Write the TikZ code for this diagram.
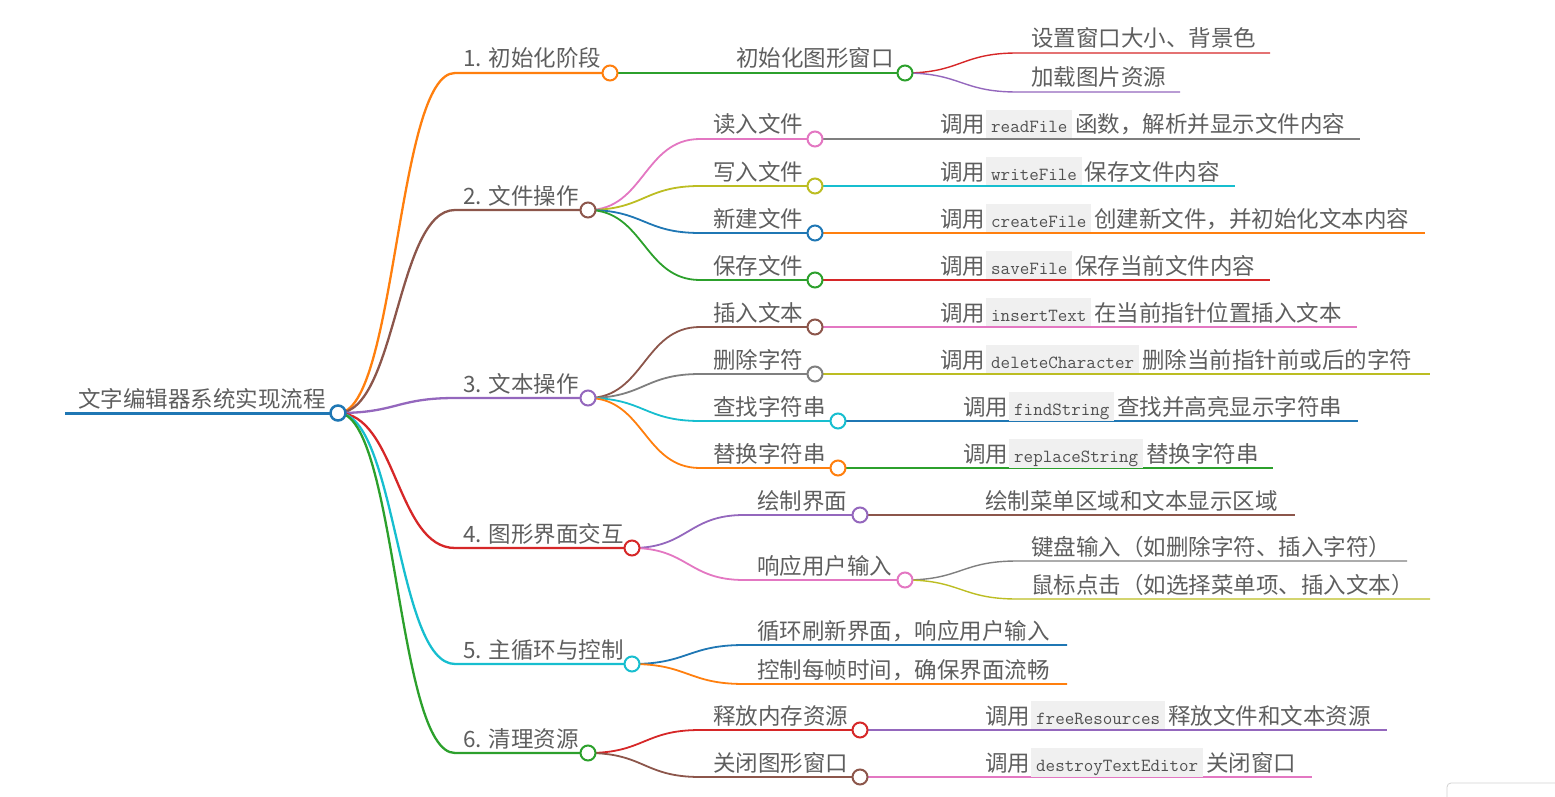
\documentclass[tikz,border=0pt]{standalone}
\usepackage{fontspec}
\setmainfont{Noto Sans CJK SC}
\usetikzlibrary{calc,backgrounds}

\definecolor{cblue}{HTML}{1F77B4}
\definecolor{corange}{HTML}{FF7F0E}
\definecolor{cgreen}{HTML}{2CA02C}
\definecolor{cred}{HTML}{D62728}
\definecolor{cpurple}{HTML}{9467BD}
\definecolor{cbrown}{HTML}{8C564B}
\definecolor{cpink}{HTML}{E377C2}
\definecolor{cgray}{HTML}{7F7F7F}
\definecolor{colive}{HTML}{BCBD22}
\definecolor{ccyan}{HTML}{17BECF}
\definecolor{txtgray}{HTML}{5E5E5E}
\definecolor{codebg}{HTML}{F0F0F0}
\definecolor{codetxt}{HTML}{505050}

\newcommand{\code}[1]{\hspace{1pt}{\setlength{\fboxsep}{2pt}\colorbox{codebg}{\rule[-3pt]{0pt}{24pt}\hspace{3pt}{\ttfamily\fontsize{18.5}{18.5}\selectfont\color{codetxt}#1}\hspace{3pt}}}\hspace{3pt}}

\tikzset{
  dot/.style={circle,draw=#1,fill=white,line width=2pt,minimum size=15pt,inner sep=0pt},
  lbl/.style={anchor=base west,inner sep=0pt,yshift=-3pt,text=txtgray,font=\fontsize{22.5}{22.5}\selectfont},
  lnk/.style={line width=#1},
  crv/.style={to path={.. controls ($(\tikztostart)+(#1,0)$) and ($(\tikztotarget)-(#1,0)$) .. (\tikztotarget)}}
}

\begin{document}
\begin{tikzpicture}[x=1pt,y=-1pt]
  \useasboundingbox (0,0) rectangle (1555,797);

  % root
  \coordinate (root-s) at (65,413);
  \node[dot=cblue,line width=2.5pt] (root) at (338,413) {};
  \node[lbl] (root-t) at (78,404) {文字编辑器系统实现流程};

  % stages
  \coordinate (s1-s) at (455,73);
  \node[dot=corange] (s1) at (610,73) {};
  \node[lbl] (s1-t) at (463,64) {1. 初始化阶段};
  \coordinate (s2-s) at (455,210);
  \node[dot=cbrown] (s2) at (588,210) {};
  \node[lbl] (s2-t) at (463,201) {2. 文件操作};
  \coordinate (s3-s) at (455,398);
  \node[dot=cpurple] (s3) at (588,398) {};
  \node[lbl] (s3-t) at (463,389) {3. 文本操作};
  \coordinate (s4-s) at (455,548);
  \node[dot=cred] (s4) at (632,548) {};
  \node[lbl] (s4-t) at (463,539) {4. 图形界面交互};
  \coordinate (s5-s) at (455,664);
  \node[dot=ccyan] (s5) at (632,664) {};
  \node[lbl] (s5-t) at (463,655) {5. 主循环与控制};
  \coordinate (s6-s) at (455,753);
  \node[dot=cgreen] (s6) at (588,753) {};
  \node[lbl] (s6-t) at (463,744) {6. 清理资源};

  % 1. init
  \coordinate (s1a-s) at (723,73);
  \node[dot=cgreen] (s1a) at (905,73) {};
  \node[lbl] (s1a-t) at (736,64) {初始化图形窗口};
  \coordinate (s1a1-s) at (1017,53); \coordinate (s1a1-e) at (1270,53);
  \node[lbl] (s1a1-t) at (1031,44) {设置窗口大小、背景色};
  \coordinate (s1a2-s) at (1017,92); \coordinate (s1a2-e) at (1180,92);
  \node[lbl] (s1a2-t) at (1031,83) {加载图片资源};

  % 2. files
  \coordinate (s2a-s) at (700,139);
  \node[dot=cpink] (s2a) at (815,139) {};
  \node[lbl] (s2a-t) at (713,130) {读入文件};
  \coordinate (s2a1-s) at (927,139); \coordinate (s2a1-e) at (1360,139);
  \node[lbl] (s2a1-t) at (940,130) {调用\code{readFile}函数，解析并显示文件内容};
  \coordinate (s2b-s) at (700,186);
  \node[dot=colive] (s2b) at (815,186) {};
  \node[lbl] (s2b-t) at (713,177) {写入文件};
  \coordinate (s2b1-s) at (927,186); \coordinate (s2b1-e) at (1235,186);
  \node[lbl] (s2b1-t) at (940,177) {调用\code{writeFile}保存文件内容};
  \coordinate (s2c-s) at (700,233);
  \node[dot=cblue] (s2c) at (815,233) {};
  \node[lbl] (s2c-t) at (713,224) {新建文件};
  \coordinate (s2c1-s) at (927,233); \coordinate (s2c1-e) at (1425,233);
  \node[lbl] (s2c1-t) at (940,224) {调用\code{createFile}创建新文件，并初始化文本内容};
  \coordinate (s2d-s) at (700,280);
  \node[dot=cgreen] (s2d) at (815,280) {};
  \node[lbl] (s2d-t) at (713,271) {保存文件};
  \coordinate (s2d1-s) at (927,280); \coordinate (s2d1-e) at (1270,280);
  \node[lbl] (s2d1-t) at (940,271) {调用\code{saveFile}保存当前文件内容};

  % 3. text
  \coordinate (s3a-s) at (700,327);
  \node[dot=cbrown] (s3a) at (815,327) {};
  \node[lbl] (s3a-t) at (713,318) {插入文本};
  \coordinate (s3a1-s) at (927,327); \coordinate (s3a1-e) at (1357,327);
  \node[lbl] (s3a1-t) at (940,318) {调用\code{insertText}在当前指针位置插入文本};
  \coordinate (s3b-s) at (700,374);
  \node[dot=cgray] (s3b) at (815,374) {};
  \node[lbl] (s3b-t) at (713,365) {删除字符};
  \coordinate (s3b1-s) at (927,374); \coordinate (s3b1-e) at (1430,374);
  \node[lbl] (s3b1-t) at (940,365) {调用\code{deleteCharacter}删除当前指针前或后的字符};
  \coordinate (s3c-s) at (700,421);
  \node[dot=ccyan] (s3c) at (838,421) {};
  \node[lbl] (s3c-t) at (713,412) {查找字符串};
  \coordinate (s3c1-s) at (950,421); \coordinate (s3c1-e) at (1358,421);
  \node[lbl] (s3c1-t) at (963,412) {调用\code{findString}查找并高亮显示字符串};
  \coordinate (s3d-s) at (700,468);
  \node[dot=corange] (s3d) at (838,468) {};
  \node[lbl] (s3d-t) at (713,459) {替换字符串};
  \coordinate (s3d1-s) at (950,468); \coordinate (s3d1-e) at (1273,468);
  \node[lbl] (s3d1-t) at (963,459) {调用\code{replaceString}替换字符串};

  % 4. gui
  \coordinate (s4a-s) at (744,515);
  \node[dot=cpurple] (s4a) at (860,515) {};
  \node[lbl] (s4a-t) at (757,506) {绘制界面};
  \coordinate (s4a1-s) at (972,515); \coordinate (s4a1-e) at (1295,515);
  \node[lbl] (s4a1-t) at (985,506) {绘制菜单区域和文本显示区域};
  \coordinate (s4b-s) at (744,580);
  \node[dot=cpink] (s4b) at (905,580) {};
  \node[lbl] (s4b-t) at (757,571) {响应用户输入};
  \coordinate (s4b1-s) at (1017,561); \coordinate (s4b1-e) at (1407,561);
  \node[lbl] (s4b1-t) at (1031,552) {键盘输入（如删除字符、插入字符）};
  \coordinate (s4b2-s) at (1017,599); \coordinate (s4b2-e) at (1430,599);
  \node[lbl] (s4b2-t) at (1031,590) {鼠标点击（如选择菜单项、插入文本）};

  % 5. main loop
  \coordinate (s5a-s) at (744,645); \coordinate (s5a-e) at (1067,645);
  \node[lbl] (s5a-t) at (757,636) {循环刷新界面，响应用户输入};
  \coordinate (s5b-s) at (744,684); \coordinate (s5b-e) at (1067,684);
  \node[lbl] (s5b-t) at (757,675) {控制每帧时间，确保界面流畅};

  % 6. cleanup
  \coordinate (s6a-s) at (700,730);
  \node[dot=cred] (s6a) at (860,730) {};
  \node[lbl] (s6a-t) at (713,721) {释放内存资源};
  \coordinate (s6a1-s) at (972,730); \coordinate (s6a1-e) at (1387,730);
  \node[lbl] (s6a1-t) at (985,721) {调用\code{freeResources}释放文件和文本资源};
  \coordinate (s6b-s) at (700,777);
  \node[dot=cbrown] (s6b) at (860,777) {};
  \node[lbl] (s6b-t) at (713,768) {关闭图形窗口};
  \coordinate (s6b1-s) at (972,777); \coordinate (s6b1-e) at (1312,777);
  \node[lbl] (s6b1-t) at (985,768) {调用\code{destroyTextEditor}关闭窗口};

  \begin{scope}[on background layer]
    \draw[lnk=3pt,cblue] (root-s) -- (root.center);
    \draw[lnk=2.3pt,corange] (root.center) to[crv=58.5] (s1-s) -- (s1.center);
    \draw[lnk=2.3pt,cbrown] (root.center) to[crv=58.5] (s2-s) -- (s2.center);
    \draw[lnk=2.3pt,cpurple] (root.center) to[crv=58.5] (s3-s) -- (s3.center);
    \draw[lnk=2.3pt,cred] (root.center) to[crv=58.5] (s4-s) -- (s4.center);
    \draw[lnk=2.3pt,ccyan] (root.center) to[crv=58.5] (s5-s) -- (s5.center);
    \draw[lnk=2.3pt,cgreen] (root.center) to[crv=58.5] (s6-s) -- (s6.center);

    \draw[lnk=1.8pt,cgreen] (s1.center) to[crv=56] (s1a-s) -- (s1a.center);
    \draw[lnk=1.4pt,cred] (s1a.center) to[crv=56] (s1a1-s) -- (s1a1-e);
    \draw[lnk=1.4pt,cpurple] (s1a.center) to[crv=56] (s1a2-s) -- (s1a2-e);

    \draw[lnk=1.8pt,cpink] (s2.center) to[crv=56] (s2a-s) -- (s2a.center);
    \draw[lnk=1.8pt,colive] (s2.center) to[crv=56] (s2b-s) -- (s2b.center);
    \draw[lnk=1.8pt,cblue] (s2.center) to[crv=56] (s2c-s) -- (s2c.center);
    \draw[lnk=1.8pt,cgreen] (s2.center) to[crv=56] (s2d-s) -- (s2d.center);
    \draw[lnk=1.4pt,cgray] (s2a.center) -- (s2a1-e);
    \draw[lnk=1.4pt,ccyan] (s2b.center) -- (s2b1-e);
    \draw[lnk=1.4pt,corange] (s2c.center) -- (s2c1-e);
    \draw[lnk=1.4pt,cred] (s2d.center) -- (s2d1-e);

    \draw[lnk=1.8pt,cbrown] (s3.center) to[crv=56] (s3a-s) -- (s3a.center);
    \draw[lnk=1.8pt,cgray] (s3.center) to[crv=56] (s3b-s) -- (s3b.center);
    \draw[lnk=1.8pt,ccyan] (s3.center) to[crv=56] (s3c-s) -- (s3c.center);
    \draw[lnk=1.8pt,corange] (s3.center) to[crv=56] (s3d-s) -- (s3d.center);
    \draw[lnk=1.4pt,cpink] (s3a.center) -- (s3a1-e);
    \draw[lnk=1.4pt,colive] (s3b.center) -- (s3b1-e);
    \draw[lnk=1.4pt,cblue] (s3c.center) -- (s3c1-e);
    \draw[lnk=1.4pt,cgreen] (s3d.center) -- (s3d1-e);

    \draw[lnk=1.8pt,cpurple] (s4.center) to[crv=56] (s4a-s) -- (s4a.center);
    \draw[lnk=1.8pt,cpink] (s4.center) to[crv=56] (s4b-s) -- (s4b.center);
    \draw[lnk=1.4pt,cbrown] (s4a.center) -- (s4a1-e);
    \draw[lnk=1.4pt,cgray] (s4b.center) to[crv=56] (s4b1-s) -- (s4b1-e);
    \draw[lnk=1.4pt,colive] (s4b.center) to[crv=56] (s4b2-s) -- (s4b2-e);

    \draw[lnk=1.8pt,cblue] (s5.center) to[crv=56] (s5a-s) -- (s5a-e);
    \draw[lnk=1.8pt,corange] (s5.center) to[crv=56] (s5b-s) -- (s5b-e);

    \draw[lnk=1.8pt,cred] (s6.center) to[crv=56] (s6a-s) -- (s6a.center);
    \draw[lnk=1.8pt,cbrown] (s6.center) to[crv=56] (s6b-s) -- (s6b.center);
    \draw[lnk=1.4pt,cpurple] (s6a.center) -- (s6a1-e);
    \draw[lnk=1.4pt,cpink] (s6b.center) -- (s6b1-e);
  \end{scope}

  % corner of a panel, bottom right
  \draw[gray!35,line width=0.8pt,rounded corners=4pt] (1447,805) |- (1565,783);
\end{tikzpicture}
\end{document}
